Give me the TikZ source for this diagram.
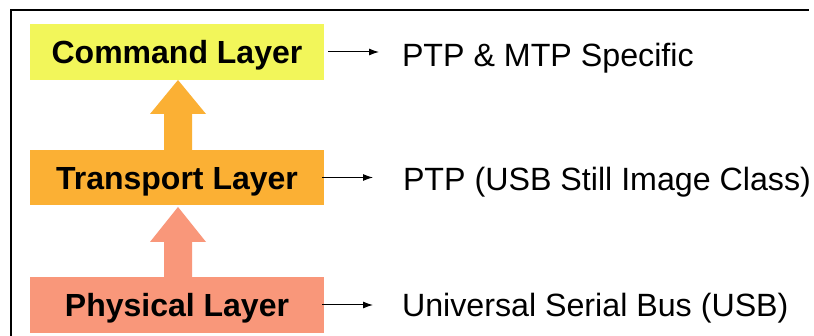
\documentclass[tikz,border=0pt]{standalone}
\usepackage{fontspec}
\setmainfont{Liberation Sans}
\usetikzlibrary{arrows.meta,calc}

\definecolor{cmdyellow}{HTML}{F2F65A}
\definecolor{trnorange}{HTML}{FBB034}
\definecolor{physalmon}{HTML}{F9977A}

\tikzset{
  layerbox/.style={minimum width=294pt, inner sep=0pt, outer sep=0pt,
    text height=24pt, text depth=0pt,
    font=\fontsize{32}{38}\selectfont\bfseries},
  desc/.style={anchor=base west, inner sep=0pt, outer sep=0pt,
    font=\fontsize{32.2}{38}\selectfont},
  pointer/.style={-{Latex[length=10pt,width=7pt]}, line width=1pt},
}

\begin{document}
\begin{tikzpicture}[x=1pt,y=-1pt]
  \useasboundingbox (0,0) rectangle (814,336);
  \fill[white] (0,0) rectangle (814,336);

  % frame along the top and left
  \draw[line width=2pt] (11,336) -- (11,10) -- (809,10);

  % layers
  \node[layerbox, fill=cmdyellow, minimum height=56pt] (cmd) at (177,52) {Command Layer};
  \node[layerbox, fill=trnorange, minimum height=55pt] (trn) at (177,177.5) {Transport Layer};
  \node[layerbox, fill=physalmon, minimum height=56pt] (phy) at (177,305) {Physical Layer};

  % block arrows between layers
  \fill[trnorange]
    ($(trn.north)+(-13,0)$) -- ++(0,-36) -- ++(-14,0) -- ($(cmd.south)+(1,0)$)
    -- ($(trn.north)+(29,-36)$) -- ++(-14,0) -- ++(0,36) -- cycle;
  \fill[physalmon]
    ($(phy.north)+(-13,0)$) -- ++(0,-35) -- ++(-14,0) -- ($(trn.south)+(1,2)$)
    -- ($(phy.north)+(29,-35)$) -- ++(-14,0) -- ++(0,35) -- cycle;

  % descriptions
  \node[desc] (d1) at (402,67) {PTP \& MTP Specific};
  \node[desc] (d2) at (403,191) {PTP (USB Still Image Class)};
  \node[desc] (d3) at (402,317) {Universal Serial Bus (USB)};

  % pointers to descriptions
  \draw[pointer, shorten <=4pt, shorten >=23pt] (cmd.east) -- (cmd.east -| d1.west);
  \draw[pointer, shorten <=-2pt, shorten >=30pt] (trn.east) -- (trn.east -| d2.west);
  \draw[pointer, shorten <=-2pt, shorten >=29pt] (phy.east) -- (phy.east -| d3.west);
\end{tikzpicture}
\end{document}
